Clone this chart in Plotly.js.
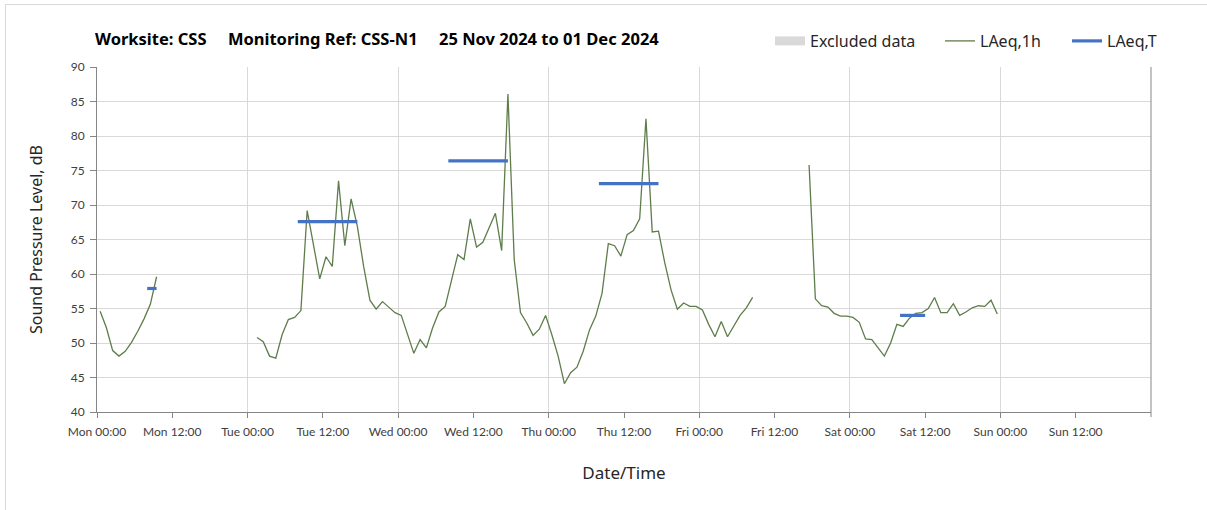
<!DOCTYPE html>
<html>
<head>
<meta charset="utf-8">
<script src="https://cdn.plot.ly/plotly-3.0.1.min.js"></script>
<style>
  html, body { margin: 0; padding: 0; background: #fff; }
  #wrap { position: relative; width: 1207px; height: 510px; overflow: hidden; }
  #chart { position: absolute; left: 0; top: 0; width: 1207px; height: 510px; }
  #frame { position: absolute; left: 5px; top: 4px; width: 1300px; height: 600px;
           border-left: 1px solid #d9d9d9; border-top: 1px solid #d9d9d9; pointer-events: none; }
</style>
</head>
<body>
<div id="wrap"><div id="chart"></div><div id="frame"></div></div>
<script>
// ---- data (hourly LAeq,1h, each value plotted at the middle of its hour) ----
const segStarts = ['2024-11-25T00:30', '2024-11-26T01:30', '2024-11-29T17:30'];
const monVals = [54.6, 52.2, 48.9, 48.1, 48.8, 50.1, 51.7, 53.5, 55.6, 59.6];
const tueFriVals = [50.8, 50.2, 48.1, 47.8, 51.2, 53.4, 53.7, 54.7, 69.2, 64.0,
  59.3, 62.5, 61.1, 73.5, 64.1, 70.9, 66.9, 61.1, 56.2, 54.9,
  56.0, 55.2, 54.4, 54.0, 51.4, 48.5, 50.5, 49.3, 52.2, 54.5,
  55.3, 59.0, 62.8, 62.1, 68.0, 63.9, 64.6, 66.7, 68.8, 63.4,
  86.1, 62.1, 54.4, 52.9, 51.1, 52.0, 54.0, 51.2, 48.1, 44.1,
  45.7, 46.5, 48.8, 51.9, 53.9, 57.2, 64.4, 64.1, 62.6, 65.7,
  66.3, 68.0, 82.5, 66.1, 66.2, 61.6, 57.7, 54.9, 55.8, 55.3,
  55.3, 54.8, 52.7, 50.9, 53.1, 50.9, 52.5, 54.0, 55.1, 56.6];
const friSatVals = [75.8, 56.4, 55.4, 55.2, 54.3, 53.9, 53.9, 53.7, 53.0, 50.6,
  50.5, 49.3, 48.1, 50.0, 52.7, 52.4, 53.6, 54.3, 54.4, 55.0,
  56.6, 54.4, 54.4, 55.7, 54.0, 54.5, 55.1, 55.4, 55.3, 56.2, 54.2];

// LAeq,T period values
const ltStart = ['2024-11-25T08:00', '2024-11-26T08:00', '2024-11-27T08:00', '2024-11-28T08:00', '2024-11-30T08:00'];
const ltEnd   = ['2024-11-25T09:30', '2024-11-26T17:30', '2024-11-27T17:30', '2024-11-28T17:30', '2024-11-30T12:00'];
const ltVals  = [57.9, 67.6, 76.4, 73.1, 54.0];

// axis ticks
const tickVals = ['2024-11-25 00:00', '2024-11-25 12:00', '2024-11-26 00:00', '2024-11-26 12:00',
  '2024-11-27 00:00', '2024-11-27 12:00', '2024-11-28 00:00', '2024-11-28 12:00',
  '2024-11-29 00:00', '2024-11-29 12:00', '2024-11-30 00:00', '2024-11-30 12:00',
  '2024-12-01 00:00', '2024-12-01 12:00'];
const tickText = ['Mon 00:00', 'Mon 12:00', 'Tue 00:00', 'Tue 12:00', 'Wed 00:00', 'Wed 12:00',
  'Thu 00:00', 'Thu 12:00', 'Fri 00:00', 'Fri 12:00', 'Sat 00:00', 'Sat 12:00', 'Sun 00:00', 'Sun 12:00'];
const xRange = ['2024-11-25 00:00', '2024-12-02 00:00'];

// ---- build traces ----
const HOUR = 3600000;
function toMs(s) { const [d, t] = s.split('T'); const [Y, M, D] = d.split('-').map(Number); const [h, m] = t.split(':').map(Number); return Date.UTC(Y, M - 1, D, h, m); }
const segs = [monVals, tueFriVals, friSatVals];
const lx = [], ly = [];
segs.forEach((vals, k) => {
  const t0 = toMs(segStarts[k]);
  vals.forEach((v, i) => { lx.push(t0 + i * HOUR); ly.push(v); });
  lx.push(null); ly.push(null);
});
const tx = [], ty = [];
ltVals.forEach((v, i) => { tx.push(toMs(ltStart[i]), toMs(ltEnd[i]), null); ty.push(v, v, null); });

const traces = [
  { type: 'scatter', mode: 'lines', name: 'Excluded data', x: [null], y: [null], xaxis: 'x2',
    line: { color: '#d9d9d9', width: 9 }, legend: 'legend', hoverinfo: 'skip' },
  { type: 'scatter', mode: 'lines', name: 'LAeq,1h', x: lx, y: ly, connectgaps: false,
    line: { color: '#5e7d4a', width: 1.3 }, legend: 'legend2' },
  { type: 'scatter', mode: 'lines', name: 'LAeq,T', x: tx, y: ty, connectgaps: false,
    line: { color: '#4472c4', width: 3.2 }, legend: 'legend3' }
];

const tickFont = { family: 'Lato, sans-serif', size: 12, color: '#404040' };
const legFont = { family: '"Noto Sans", sans-serif', size: 16, color: '#262626' };
const PW = 1151 - 97;
function px2paper(px) { return (px - 97) / PW; }
const legY = 1 + (67 - 41) / 345;
const NB = '\u00a0\u00a0\u00a0\u00a0\u00a0';

const layout = {
  width: 1207, height: 510,
  margin: { l: 97, r: 56, t: 67, b: 98 },
  paper_bgcolor: '#ffffff', plot_bgcolor: '#ffffff',
  title: {
    text: 'Worksite: CSS' + NB + 'Monitoring Ref: CSS-N1' + NB + '25 Nov 2024 to 01 Dec 2024',
    xref: 'container', x: 95 / 1207, xanchor: 'left',
    yref: 'container', y: 1 - 39 / 510, yanchor: 'middle',
    font: { family: '"Noto Sans", sans-serif', size: 16.5, weight: 'bold', color: '#000000' }
  },
  xaxis: {
    type: 'date', range: xRange, tickmode: 'array', tickvals: tickVals, ticktext: tickText,
    showgrid: false, zeroline: false, showline: true, linecolor: '#868686', linewidth: 1,
    ticks: 'outside', ticklen: 5, tickcolor: '#868686', tickfont: tickFont, ticklabelstandoff: 4,
    title: { text: 'Date/Time', standoff: 28, font: { family: '"Noto Sans", sans-serif', size: 17, color: '#262626' } }
  },
  xaxis2: {
    type: 'date', overlaying: 'x', matches: 'x', range: xRange, tickmode: 'linear',
    tick0: '2024-11-25 00:00', dtick: 86400000, showgrid: true, gridcolor: '#d9d9d9', gridwidth: 1,
    showticklabels: false, ticks: '', showline: false, zeroline: false
  },
  yaxis: {
    range: [40, 90], dtick: 5, tick0: 40, showgrid: true, gridcolor: '#d9d9d9', gridwidth: 1,
    zeroline: false, showline: true, linecolor: '#868686', linewidth: 1,
    ticks: 'outside', ticklen: 6, tickcolor: '#868686', tickfont: tickFont, ticklabelstandoff: 3,
    title: { text: 'Sound Pressure Level, dB', standoff: 24, font: { family: '"Noto Sans", sans-serif', size: 16, color: '#262626' } }
  },
  showlegend: true,
  legend:  { orientation: 'h', x: px2paper(770), xanchor: 'left', y: legY, yanchor: 'middle', font: legFont, bgcolor: 'rgba(0,0,0,0)' },
  legend2: { orientation: 'h', x: px2paper(940), xanchor: 'left', y: legY, yanchor: 'middle', font: legFont, bgcolor: 'rgba(0,0,0,0)' },
  legend3: { orientation: 'h', x: px2paper(1067), xanchor: 'left', y: legY, yanchor: 'middle', font: legFont, bgcolor: 'rgba(0,0,0,0)' },
  shapes: [
    { type: 'line', xref: 'paper', yref: 'paper', x0: 1, x1: 1, y0: -5 / 345, y1: 1,
      line: { color: '#868686', width: 1 }, layer: 'above' }
  ]
};

Plotly.newPlot('chart', traces, layout, { displayModeBar: false, staticPlot: true });
</script>
</body>
</html>
